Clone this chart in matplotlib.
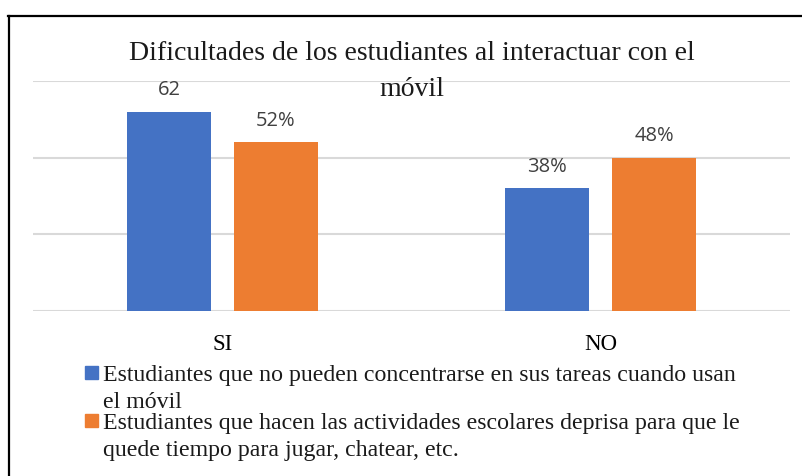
import numpy as np
import matplotlib
matplotlib.use("Agg")
import matplotlib.pyplot as plt
from matplotlib.lines import Line2D
from matplotlib.patches import Rectangle

# ===== DATA =====
categories = ["SI", "NO"]
series_names = [
    "Estudiantes que no pueden concentrarse en sus tareas cuando usan\nel móvil",
    "Estudiantes que hacen las actividades escolares deprisa para que le\nquede tiempo para jugar, chatear, etc.",
]
no_concentran = [52, 32]        # bar heights
deprisa = [44, 40]
labels_no_concentran = ["62", "38%"]   # labels as printed on the chart
labels_deprisa = ["52%", "48%"]
colors = ["#4472C4", "#ED7D31"]
title_lines = ["Dificultades de los estudiantes al interactuar con el", "móvil"]

W, H = 803, 477
fig = plt.figure(figsize=(W / 100, H / 100), dpi=100)

# axes placed in pixel terms
ax_l, ax_r, ax_top, ax_bot = 33, 790, 82, 312
ax = fig.add_axes([ax_l / W, 1 - ax_bot / H, (ax_r - ax_l) / W, (ax_bot - ax_top) / H])

x = np.arange(len(categories))
width = 0.222
off = 0.141
b1 = ax.bar(x - off, no_concentran, width, color=colors[0], zorder=3)
b2 = ax.bar(x + off, deprisa, width, color=colors[1], zorder=3)

for bars, labs in [(b1, labels_no_concentran), (b2, labels_deprisa)]:
    for rect, lab in zip(bars, labs):
        ax.annotate(lab, (rect.get_x() + rect.get_width() / 2, rect.get_height()),
                    xytext=(0, 16), textcoords="offset points",
                    ha="center", va="center", fontsize=14.5,
                    family="Open Sans", color="#404040")

ax.set_xlim(-0.5, len(categories) - 0.5)
ax.set_ylim(0, 60)
ax.set_yticks([0, 20, 40, 60])
ax.yaxis.grid(True, color="#d9d9d9", linewidth=1.5, zorder=0)
ax.tick_params(axis="y", left=False, labelleft=False)
ax.tick_params(axis="x", length=0, pad=16)
ax.set_xticks(x)
ax.set_xticklabels(categories, fontsize=16.5, family="Liberation Serif")
for s in ax.spines.values():
    s.set_visible(False)

# title (two lines, centred over the plot area)
cx = (ax_l + ax_r) / 2 / W
fig.text(cx, 1 - 54 / H, title_lines[0], ha="center", va="center",
         fontsize=20, family="Liberation Serif", color="#1a1a1a")
fig.text(cx, 1 - 89 / H, title_lines[1], ha="center", va="center",
         fontsize=20, family="Liberation Serif", color="#1a1a1a")

# legend drawn by hand
for i, (name, col) in enumerate(zip(series_names, colors)):
    top = 367 + i * 48
    fig.patches.append(Rectangle((85 / W, 1 - (top + 13) / H), 13 / W, 13 / H,
                                 transform=fig.transFigure, color=col))
    fig.text(103 / W, 1 - (top - 2) / H, name, ha="left", va="top",
             fontsize=17.2, family="Liberation Serif", color="#1a1a1a",
             linespacing=1.4)

# outer frame (top and left edges only)
fig.add_artist(Line2D([8 / W, 1], [1 - 16.5 / H, 1 - 16.5 / H], color="black",
                      linewidth=1.6, transform=fig.transFigure))
fig.add_artist(Line2D([9.5 / W, 9.5 / W], [0, 1 - 16.5 / H], color="black",
                      linewidth=1.6, transform=fig.transFigure))

fig.savefig("out.png", dpi=100)
